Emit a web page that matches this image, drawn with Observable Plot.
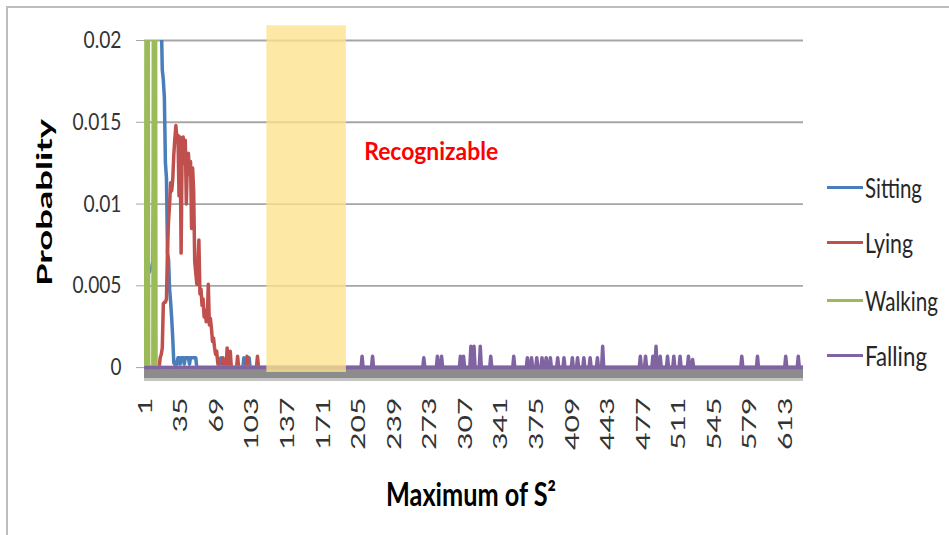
<!DOCTYPE html>
<html>
<head>
<meta charset="utf-8">
<script src="https://cdn.jsdelivr.net/npm/d3@7"></script>
<script src="https://cdn.jsdelivr.net/npm/@observablehq/plot@0.6"></script>
<style>
  html, body { margin: 0; padding: 0; background: #ffffff; }
  #wrap { position: relative; width: 949px; height: 535px; overflow: hidden; background: #fff; }
  #wrap svg { display: block; }
  #border { position: absolute; left: 6px; top: 6px; width: 943px; height: 529px;
            border-top: 2px solid #bdbdbd; border-left: 2px solid #bdbdbd; pointer-events: none; }
  #legend { position: absolute; left: 827px; top: 0; width: 122px; height: 535px;
            font-family: Lato, "Open Sans", sans-serif; font-size: 27px; color: #262626; }
  .item { position: absolute; left: 0; height: 30px; display: flex; align-items: center; white-space: nowrap; }
  .swatch { width: 36px; height: 3px; margin-right: 2px; flex: none; }
  .lbl { display: inline-block; transform-origin: 0 50%; }
</style>
</head>
<body>
<div id="wrap">
  <div id="chart"></div>
  <div id="legend"></div>
  <div id="border"></div>
</div>
<script>
// ---------- data ----------
const xFirst = 1;
const xLast = 630;
const xTicks = [1, 35, 69, 103, 137, 171, 205, 239, 273, 307, 341, 375, 409, 443, 477, 511, 545, 579, 613];
const yTicks = [0, 0.005, 0.01, 0.015, 0.02];
const yTickLabels = ["0", "0.005", "0.01", "0.015", "0.02"];

const seriesNames = ["Sitting", "Lying", "Walking", "Falling"];
const seriesColors = ["#4a7ebb", "#c0504d", "#9bbb59", "#8064a2"];

// nonzero points (category, probability); every other category is 0
const sittingX = [2, 3, 4, 5, 6, 7, 8, 9, 10, 11, 12, 13, 14, 15, 16, 17, 18, 19, 20, 21, 22, 23, 24, 25, 26, 27, 28, 29,
  31, 32, 33, 34, 35, 36, 37, 38, 39, 40, 41, 42, 43, 44, 45, 46, 47, 48, 49, 73, 95, 100];
const sittingY = [0.003, 0.0058, 0.0058, 0.0059, 0.006, 0.0062, 0.0065, 0.012, 0.03, 0.038, 0.042, 0.036, 0.03, 0.025,
  0.0215, 0.0182, 0.0176, 0.0165, 0.0125, 0.0116, 0.007, 0.0066, 0.0048, 0.004, 0.003, 0.0018, 0.0003, 0.0002,
  0.0003, 0.0006, 0.0006, 0.0002, 0.0006, 0.0006, 0.0006, 0.0002, 0.0006, 0.0006, 0.0006, 0.0006, 0.0002,
  0.0006, 0.0006, 0.0006, 0.0006, 0.0006, 0.0006, 0.0006, 0.0006, 0.0006];

const lyingX = [15, 16, 17, 18, 19, 20, 21, 22, 23, 24, 25, 26, 27, 28, 29, 30, 31, 32, 33, 34, 35, 36, 37, 38, 39, 40,
  41, 42, 43, 44, 45, 46, 47, 48, 49, 50, 51, 52, 53, 54, 55, 56, 57, 58, 59, 60, 61, 62, 63, 64, 65, 66, 67, 68, 69, 70,
  75, 79, 82, 89, 98, 108];
const lyingY = [0.0006, 0.0008, 0.0012, 0.0039, 0.004, 0.004, 0.0042, 0.0072, 0.009, 0.01, 0.0113, 0.0108, 0.0115,
  0.013, 0.014, 0.0148, 0.014, 0.0142, 0.0105, 0.0141, 0.007, 0.0135, 0.0141, 0.0125, 0.0139, 0.01,
  0.0128, 0.0131, 0.0118, 0.0126, 0.0085, 0.0122, 0.0108, 0.0065, 0.0058, 0.0051, 0.0062, 0.0078, 0.0045, 0.0048,
  0.0038, 0.0042, 0.0031, 0.0035, 0.0028, 0.003, 0.0051, 0.0026, 0.003, 0.0024, 0.0016, 0.0018, 0.0012, 0.0008,
  0.001, 0.0003, 0.0006, 0.0012, 0.001, 0.0007, 0.0007, 0.0007];

const walkingX = [2, 3, 9, 10];
const walkingY = [0.05, 0.05, 0.05, 0.05];

const fallingX = [208, 218, 267, 280, 284, 302, 305, 312, 315, 321, 331, 353, 366, 370, 375, 380, 384, 388, 395, 401,
  409, 414, 420, 426, 433, 438, 474, 479, 486, 489, 493, 500, 506, 512, 520, 524, 571, 586, 613, 625];
const fallingY = [0.0007, 0.0007, 0.0006, 0.0007, 0.0007, 0.0007, 0.0007, 0.0013, 0.0013, 0.0013, 0.0007, 0.0007,
  0.0006, 0.0006, 0.0006, 0.0006, 0.0006, 0.0006, 0.0006, 0.0006, 0.0006, 0.0006, 0.0006, 0.0006, 0.0006, 0.0013,
  0.0007, 0.0007, 0.0007, 0.0013, 0.0007, 0.0007, 0.0007, 0.0007, 0.0007, 0.0005, 0.0007, 0.0007, 0.0007, 0.0007];

const bandStart = 117;
const bandEnd = 193;
const bandLabel = "Recognizable";
const xTitle = "Maximum of S\u00b2";
const yTitle = "Probablity";

// ---------- build series ----------
function fullSeries(name, xs, ys) {
  const m = new Map(xs.map((x, i) => [x, ys[i]]));
  return d3.range(xFirst, xLast + 1).map(x => ({series: name, x, y: m.has(x) ? m.get(x) : 0}));
}
const allSeries = [
  fullSeries("Sitting", sittingX, sittingY),
  fullSeries("Lying", lyingX, lyingY),
  fullSeries("Walking", walkingX, walkingY),
  fullSeries("Falling", fallingX, fallingY)
];

const font = 'Lato, "Open Sans", sans-serif';

const chart = Plot.plot({
  width: 949,
  height: 535,
  marginLeft: 144,
  marginRight: 146,
  marginTop: 40,
  marginBottom: 163,
  x: {domain: [0, 630]},
  y: {domain: [-0.0003, 0.02]},
  style: {fontFamily: font, background: "transparent", color: "#262626"},
  marks: [
    Plot.ruleY(yTicks, {stroke: "#a6a6a6", strokeWidth: 1.8}),
    Plot.ruleY([0], {stroke: "#8c8c8c", strokeWidth: 10, dy: 6}),
    Plot.ruleY([0], {stroke: "#c4c4c4", strokeWidth: 3, dy: 12}),
    Plot.axisY({ticks: yTicks, tickFormat: (d, i) => yTickLabels[i], tickSize: 8, tickPadding: 15,
      fontSize: 23.5, stroke: "#a6a6a6", fill: "#333333", label: null}),
    Plot.axisX({ticks: xTicks, tickRotate: -90, tickSize: 0, tickPadding: 25, fontSize: 19.5,
      fill: "#333333", label: null}),
    ...allSeries.map((s, i) => Plot.line(s, {x: "x", y: "y", stroke: seriesColors[i], strokeWidth: 3.5, clip: true})),
    Plot.rect([{a: bandStart, b: bandEnd}], {x1: "a", x2: "b", y1: -0.0003, y2: 0.0209,
      fill: "#fce28c", fillOpacity: 0.78}),
    Plot.text([bandLabel], {x: 210, y: 0.0132, text: d => d, textAnchor: "start", fill: "#ff0000",
      fontWeight: "bold", fontSize: 25}),
    Plot.text([yTitle], {frameAnchor: "left", text: d => d, rotate: -90, dx: -99, dy: -4, textAnchor: "middle",
      fontWeight: "bold", fontSize: 21.5, fill: "#000"}),
    Plot.text([xTitle], {frameAnchor: "bottom", text: d => d, dx: -3, dy: 133,
      fontWeight: "bold", fontSize: 32, fill: "#000"})
  ]
});
document.getElementById("chart").appendChild(chart);

// match the stretched text extents of the reference
function fit(el, len) {
  el.setAttribute("textLength", len);
  el.setAttribute("lengthAdjust", "spacingAndGlyphs");
}
chart.querySelectorAll('g[aria-label="y-axis tick label"] text').forEach(t => {
  const s = t.textContent;
  const digits = s.replace(/\D/g, "").length;
  const dots = s.length - digits;
  fit(t, 11 * digits + 5 * dots);
});
chart.querySelectorAll('g[aria-label="x-axis tick label"] text').forEach(t => {
  fit(t, 17.5 * t.textContent.length);
});
chart.querySelectorAll("text").forEach(t => {
  if (t.textContent === yTitle) fit(t, 167);
  else if (t.textContent === xTitle) fit(t, 170);
  else if (t.textContent === bandLabel) fit(t, 134);
});

// legend
const legendY = [187, 242, 300, 355];
const legendW = [57, 48, 73, 62];
const legend = document.getElementById("legend");
seriesNames.forEach((name, i) => {
  const item = document.createElement("div");
  item.className = "item";
  item.style.top = (legendY[i] - 15) + "px";
  const sw = document.createElement("span");
  sw.className = "swatch";
  sw.style.background = seriesColors[i];
  const tx = document.createElement("span");
  tx.className = "lbl";
  tx.textContent = name;
  item.appendChild(sw);
  item.appendChild(tx);
  legend.appendChild(item);
  const w = tx.getBoundingClientRect().width;
  if (w > 0) tx.style.transform = `scaleX(${legendW[i] / w})`;
});
</script>
</body>
</html>
